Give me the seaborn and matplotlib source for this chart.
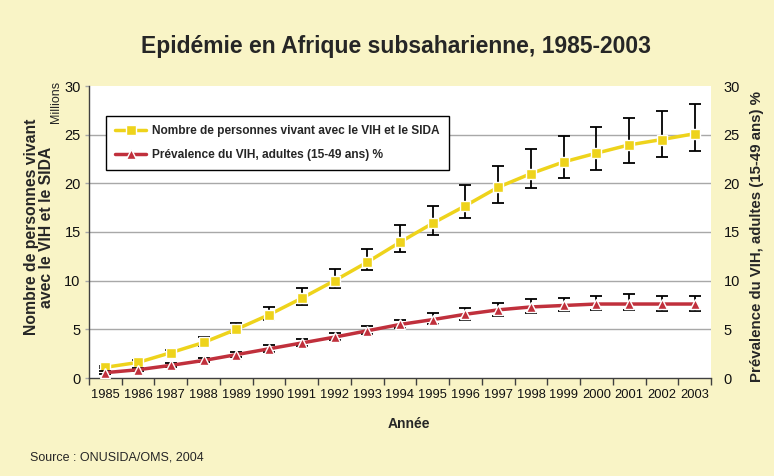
import matplotlib.pyplot as plt
import seaborn as sns
import pandas as pd
import numpy as np

# Data
years = list(range(1985, 2004))

# People living with HIV/AIDS (millions), with low/high estimates
hiv_millions = [1.1, 1.6, 2.6, 3.65, 5.0, 6.5, 8.2, 10.0, 11.9, 13.95,
                15.9, 17.7, 19.6, 21.0, 22.2, 23.1, 23.95, 24.5, 25.1]
hiv_high = [1.2, 1.8, 2.9, 4.2, 5.6, 7.3, 9.2, 11.2, 13.3, 15.7,
            17.7, 19.8, 21.8, 23.5, 24.9, 25.8, 26.7, 27.4, 28.2]
hiv_low = [1.0, 1.4, 2.4, 3.3, 4.6, 6.0, 7.5, 9.2, 11.05, 12.9,
           14.7, 16.4, 18.0, 19.5, 20.5, 21.4, 22.1, 22.7, 23.3]

# Adult HIV prevalence (15-49) %, with low/high estimates
prevalence = [0.55, 0.85, 1.3, 1.8, 2.4, 3.0, 3.6, 4.2, 4.85, 5.5,
              6.0, 6.55, 7.0, 7.3, 7.45, 7.6, 7.6, 7.6, 7.6]
prev_high = [0.7, 1.05, 1.55, 2.05, 2.65, 3.35, 4.0, 4.6, 5.3, 6.0,
             6.7, 7.2, 7.75, 8.1, 8.25, 8.4, 8.6, 8.4, 8.4]
prev_low = [0.45, 0.7, 1.1, 1.6, 2.2, 2.7, 3.3, 3.9, 4.5, 5.1,
            5.5, 5.95, 6.35, 6.65, 6.9, 7.0, 7.0, 6.85, 6.85]

label_hiv = 'Nombre de personnes vivant avec le VIH et le SIDA'
label_prev = 'Prévalence du VIH, adultes (15-49 ans) %'

BG = '#F9F4C6'
YELLOW = '#EED31B'
RED = '#C0303C'

sns.set_theme(style="white")
plt.rcParams['font.family'] = ['Liberation Sans', 'DejaVu Sans']

df = pd.DataFrame({
    'Année': years,
    'hiv': hiv_millions, 'hiv_low': hiv_low, 'hiv_high': hiv_high,
    'prev': prevalence, 'prev_low': prev_low, 'prev_high': prev_high,
})

fig = plt.figure(figsize=(7.74, 4.76), dpi=100, facecolor=BG)
ax = fig.add_axes([89 / 774, 1 - 378 / 476, 622 / 774, 292 / 476])
ax.set_facecolor('white')
ax2 = ax.twinx()

# error bars behind the lines
ax.errorbar(df['Année'], df['hiv'],
            yerr=[df['hiv'] - df['hiv_low'], df['hiv_high'] - df['hiv']],
            fmt='none', ecolor='black', elinewidth=1.3, capsize=4, capthick=1.3, zorder=1)
ax2.errorbar(df['Année'], df['prev'],
             yerr=[df['prev'] - df['prev_low'], df['prev_high'] - df['prev']],
             fmt='none', ecolor='black', elinewidth=1.3, capsize=4, capthick=1.3, zorder=1)

sns.lineplot(data=df, x='Année', y='hiv', ax=ax, color=YELLOW, linewidth=2.5,
             marker='s', markersize=6.5, markeredgecolor='white', markeredgewidth=1,
             label=label_hiv, legend=False, zorder=3)
sns.lineplot(data=df, x='Année', y='prev', ax=ax2, color=RED, linewidth=2.5,
             marker='^', markersize=7, markeredgecolor='white', markeredgewidth=1,
             label=label_prev, legend=False, zorder=3)

for a in (ax, ax2):
    a.set_ylim(0, 30)
    a.set_xlim(1984.5, 2003.5)
    a.set_yticks(range(0, 31, 5))
    a.set_xlabel('')
    a.set_ylabel('')
    for s in ['top', 'right']:
        a.spines[s].set_visible(False)

ax2.spines['left'].set_visible(False)
ax2.spines['bottom'].set_visible(False)

# horizontal grid 5..25
ax.yaxis.grid(True, color='#A8A8A8', linewidth=1)
gl = ax.get_ygridlines()
gl[0].set_visible(False)
gl[-1].set_visible(False)
ax.set_axisbelow(True)

ax.spines['left'].set_color('#404040')
ax.spines['bottom'].set_color('#404040')
ax.spines['left'].set_linewidth(1)
ax.spines['bottom'].set_linewidth(1)

ax.set_xticks(years)
ax.set_xticklabels([str(y) for y in years])
ax.set_xticks(np.arange(1984.5, 2004, 1), minor=True)
ax.tick_params(axis='x', which='major', length=0, labelsize=9.3, pad=8, colors='#111111')
ax.tick_params(axis='x', which='minor', length=5, width=1, color='#404040', direction='out', bottom=True)
ax.tick_params(axis='y', length=3, width=1, color='#A8A8A8', left=True, labelsize=10.5, pad=3,
               labelcolor='#111111')
ax2.tick_params(axis='y', length=0, labelsize=10.5, pad=9, labelcolor='#111111')

# legend
h1, l1 = ax.get_legend_handles_labels()
h2, l2 = ax2.get_legend_handles_labels()
leg = ax2.legend(h1 + h2, l1 + l2, loc='upper left', bbox_to_anchor=(0.018, 0.918),
                 frameon=True, fancybox=False, edgecolor='black', framealpha=1,
                 prop={'weight': 'bold', 'size': 8.6}, handlelength=2.6,
                 labelspacing=1.05, borderpad=0.75, handletextpad=0.5)
leg.get_frame().set_linewidth(1)

# texts
fig.text(0.512, 0.903, 'Epidémie en Afrique subsaharienne, 1985-2003',
         ha='center', va='center', fontsize=16.5, fontweight='bold')
fig.text(409 / 774, 1 - 424 / 476, 'Année', ha='center', va='center',
         fontsize=10, fontweight='bold')
fig.text(39 / 774, 1 - 227 / 476, 'Nombre de personnes vivant\navec le VIH et le SIDA',
         rotation=90, ha='center', va='center', fontsize=11.3, fontweight='bold',
         multialignment='center', linespacing=1.0)
fig.text(757 / 774, 1 - 237 / 476, label_prev, rotation=90, ha='center', va='center',
         fontsize=10.8, fontweight='bold')
fig.text(56 / 774, 1 - 102 / 476, 'Millions', rotation=90, ha='center', va='center',
         fontsize=9)
fig.text(30 / 774, 1 - 458 / 476, 'Source : ONUSIDA/OMS, 2004', ha='left', va='center',
         fontsize=9)

fig.savefig('out.png', dpi=100, facecolor=BG)
